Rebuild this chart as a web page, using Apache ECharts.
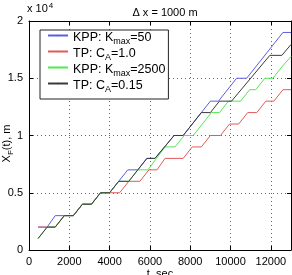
<!DOCTYPE html>
<html>
<head>
<meta charset="utf-8">
<script src="https://cdn.jsdelivr.net/npm/echarts@6/dist/echarts.min.js"></script>
<style>
  html, body { margin: 0; padding: 0; background: #fff; }
  #chart { width: 292px; height: 275px; }
</style>
</head>
<body>
<div id="chart"></div>
<script>
// front position X_F (m) vs time (s)
const kpp50X = [450, 900, 1300, 2200, 2650, 3100, 3550, 4000, 4900, 5400, 5850, 6250, 7200, 7650, 9000, 9400, 10300, 10800, 12600, 13000]
const kpp50Y = [2000, 2000, 3000, 3000, 4000, 4000, 5000, 5000, 7000, 7000, 8000, 8000, 10000, 10000, 13000, 13000, 15000, 15000, 19000, 19000]

const tp10X = [450, 1300, 1750, 2200, 2650, 3100, 3550, 4500, 4950, 5500, 5950, 6350, 6750, 7650, 8100, 8550, 9000, 9500, 9950, 10400, 10850, 11300, 11750, 12150, 12600, 13000]
const tp10Y = [2000, 2000, 3000, 3000, 4000, 4000, 5000, 5000, 6000, 6000, 7000, 7000, 8000, 8000, 9000, 9000, 10000, 10000, 11000, 11000, 12000, 12000, 13000, 13000, 14000, 14000]

const kpp2500X = [450, 900, 1300, 1750, 2200, 2650, 3100, 3550, 4000, 4450, 4950, 5400, 5900, 6750, 7250, 7700, 8150, 9050, 9450, 9900, 10500, 10950, 11250, 11700, 12100, 12550, 13000]
const kpp2500Y = [1000, 2000, 2000, 3000, 3000, 4000, 4000, 5000, 5000, 6000, 6000, 7000, 7000, 9000, 9000, 10000, 10000, 12000, 12000, 13000, 13000, 14000, 14000, 15000, 15000, 16000, 16900]

const tp015X = [450, 900, 1300, 1750, 2200, 2650, 3100, 3550, 4000, 4450, 4950, 5400, 5850, 6250, 7200, 7650, 8550, 9000, 9450, 10050, 11950, 12550, 13000]
const tp015Y = [1000, 2000, 2000, 3000, 3000, 4000, 4000, 5000, 5000, 6000, 6000, 7000, 8000, 8000, 10000, 10000, 12000, 12000, 13000, 13000, 17000, 17000, 17950]

const seriesNames = ['KPP: K_max=50', 'TP: C_A=1.0', 'KPP: K_max=2500', 'TP: C_A=0.15']
const legendLabels = [
  '{a|KPP: K}{s|max}{a|=50}',
  '{a|TP: C}{s|A}{a|=1.0}',
  '{a|KPP: K}{s|max}{a|=2500}',
  '{a|TP: C}{s|A}{a|=0.15}',
]
const colors = ['#5c5ce6', '#e05a5a', '#50ea50', '#3a3a3a']
const yTickLabels = ['0', '0.5', '1', '1.5', '2']

const FONT = 'Liberation Sans, Arial, Helvetica, sans-serif'

function zip(xs, ys) {
  return xs.map((x, i) => [x, ys[i]])
}

const allData = [
  zip(kpp50X, kpp50Y),
  zip(tp10X, tp10Y),
  zip(kpp2500X, kpp2500Y),
  zip(tp015X, tp015Y),
]

const chart = echarts.init(document.getElementById('chart'))

const tickStyle = { inside: true, length: 4, lineStyle: { color: '#000', width: 1 } }
const axisLineStyle = { show: true, onZero: false, lineStyle: { color: '#000', width: 1 } }
const gridLine = { show: true, lineStyle: { color: '#666', width: 1, type: [1, 3] } }

chart.setOption({
  animation: false,
  backgroundColor: '#fff',
  title: [
    {
      text: 'Δ x = 1000 m',
      left: 160,
      textAlign: 'center',
      top: 2,
      textStyle: { fontFamily: FONT, fontSize: 11, fontWeight: 'normal', color: '#000' },
    },
    {
      text: '{a|x 10}{b|4}',
      left: 27,
      top: 2,
      padding: 0,
      textStyle: {
        fontWeight: 'normal',
        rich: {
          a: { fontFamily: FONT, fontSize: 11, fontWeight: 'normal', color: '#000', lineHeight: 12, verticalAlign: 'bottom' },
          b: { fontFamily: FONT, fontSize: 8, fontWeight: 'normal', color: '#000', lineHeight: 8, verticalAlign: 'top', padding: [0, 0, 8, 1] },
        },
      },
    },
  ],
  grid: {
    left: 29,
    right: 1,
    top: 21,
    bottom: 25,
    containLabel: false,
    outerBoundsMode: 'none',
  },
  legend: {
    orient: 'vertical',
    left: 40,
    top: 30,
    data: seriesNames,
    itemWidth: 20,
    itemHeight: 2,
    itemGap: 1,
    padding: [1, 3, 5, 7],
    backgroundColor: '#fff',
    borderColor: '#222',
    borderWidth: 1,
    borderRadius: 0,
    formatter: (name) => legendLabels[seriesNames.indexOf(name)],
    textStyle: {
      rich: {
        a: { fontFamily: FONT, fontSize: 12.5, color: '#000', lineHeight: 9, verticalAlign: 'top' },
        s: { fontFamily: FONT, fontSize: 9, color: '#000', lineHeight: 9, verticalAlign: 'top', padding: [6, 0, 0, 0] },
      },
    },
  },
  xAxis: [
    {
      type: 'value',
      min: 0,
      max: 13000,
      interval: 2000,
      position: 'bottom',
      axisLine: axisLineStyle,
      axisTick: tickStyle,
      splitLine: gridLine,
      axisLabel: {
        margin: 6,
        fontFamily: FONT,
        fontSize: 11,
        color: '#000',
        formatter: (v) => (v > 12000 ? '' : String(v)),
      },
      name: 't, sec',
      nameLocation: 'middle',
      nameGap: 18,
      nameMoveOverlap: false,
      nameTextStyle: { fontFamily: FONT, fontSize: 11, color: '#000' },
    },
    {
      type: 'value',
      min: 0,
      max: 13000,
      interval: 2000,
      position: 'top',
      axisLine: axisLineStyle,
      axisTick: tickStyle,
      axisLabel: { show: false },
      splitLine: { show: false },
    },
  ],
  yAxis: [
    {
      type: 'value',
      min: 0,
      max: 20000,
      interval: 5000,
      position: 'left',
      axisLine: axisLineStyle,
      axisTick: tickStyle,
      splitLine: gridLine,
      axisLabel: {
        margin: 6,
        fontFamily: FONT,
        fontSize: 11,
        color: '#000',
        formatter: (v) => yTickLabels[Math.round(v / 5000)],
      },
      name: '{a|X}{s|F}{a|(t), m}',
      nameLocation: 'middle',
      nameGap: 16,
      nameMoveOverlap: false,
      nameTextStyle: {
        padding: [0, 16, 0, 0],
        rich: {
          a: { fontFamily: FONT, fontSize: 11, color: '#000', lineHeight: 12, verticalAlign: 'top' },
          s: { fontFamily: FONT, fontSize: 8, color: '#000', lineHeight: 8, verticalAlign: 'top', padding: [6, 0, 0, 0] },
        },
      },
    },
    {
      type: 'value',
      min: 0,
      max: 20000,
      interval: 5000,
      position: 'right',
      axisLine: axisLineStyle,
      axisTick: tickStyle,
      axisLabel: { show: false },
      splitLine: { show: false },
    },
  ],
  series: allData.map((data, i) => ({
    name: seriesNames[i],
    type: 'line',
    data: data,
    symbol: 'none',
    showSymbol: false,
    color: colors[i],
    lineStyle: { color: colors[i], width: 1 },
    itemStyle: { color: colors[i] },
    z: 2 + i,
  })),
})
</script>
</body>
</html>
